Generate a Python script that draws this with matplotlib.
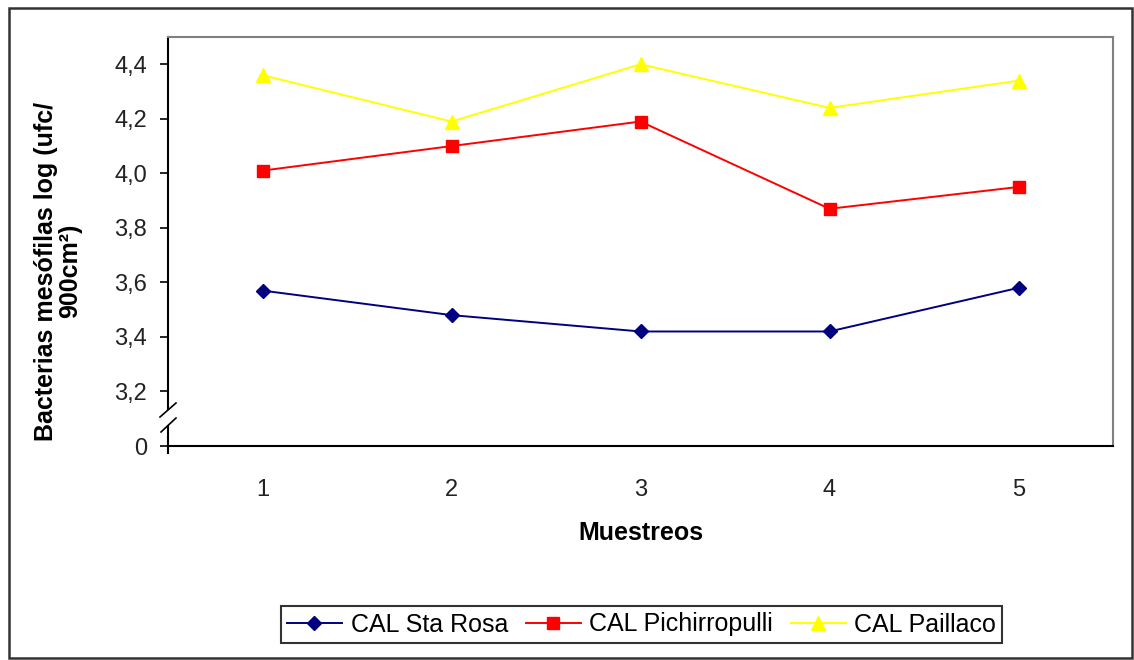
import matplotlib
matplotlib.use('Agg')
import matplotlib.pyplot as plt
from matplotlib.patches import Rectangle
from matplotlib.lines import Line2D

plt.rcParams['font.family'] = ['Liberation Sans', 'DejaVu Sans']

muestreos = [1, 2, 3, 4, 5]
x_labels = ['1', '2', '3', '4', '5']
sta_rosa = [3.57, 3.48, 3.42, 3.42, 3.58]
pichirropulli = [4.01, 4.10, 4.19, 3.87, 3.95]
paillaco = [4.36, 4.19, 4.40, 4.24, 4.34]
series_names = ['CAL Sta Rosa', 'CAL Pichirropulli', 'CAL Paillaco']
y_ticks = [3.0, 3.2, 3.4, 3.6, 3.8, 4.0, 4.2, 4.4]
y_tick_labels = ['0', '3,2', '3,4', '3,6', '3,8', '4,0', '4,2', '4,4']

W, H = 1134, 660
fig = plt.figure(figsize=(W / 100, H / 100), dpi=100)


def fx(px):
    return px / W


def fy(py):
    return 1 - py / H


ax = fig.add_axes([fx(168), fy(446), (1113 - 168) / W, (446 - 37) / H])

ax.plot(muestreos, sta_rosa, color='#000080', lw=1.4, marker='D', ms=7.5,
        markeredgecolor='#000080', label=series_names[0])
ax.plot(muestreos, pichirropulli, color='#ff0000', lw=1.4, marker='s', ms=8.5,
        markeredgecolor='#ff0000', label=series_names[1])
ax.plot(muestreos, paillaco, color='#ffff00', lw=1.4, marker='^', ms=10,
        markeredgecolor='#ffff00', label=series_names[2])

ax.set_xlim(0.5, 5.5)
ax.set_ylim(3.0, 4.5)
ax.set_yticks(y_ticks)
ax.set_yticklabels(y_tick_labels)
ax.set_xticks(muestreos)
ax.set_xticklabels(x_labels)
ax.tick_params(axis='x', length=0, pad=24, labelsize=17, colors='#222222')
ax.tick_params(axis='y', length=6, width=1.2, pad=9, labelsize=17,
               direction='out', colors='black', labelcolor='#222222')

for s in ['left', 'bottom']:
    ax.spines[s].set_color('black')
    ax.spines[s].set_linewidth(1.5)
for s in ['top', 'right']:
    ax.spines[s].set_color('#808080')
    ax.spines[s].set_linewidth(1.5)

# axis break on the y axis
fig.patches.append(Rectangle((fx(164), fy(425)), fx(8), (425 - 410) / H,
                             transform=fig.transFigure, facecolor='white',
                             edgecolor='none', zorder=10))
for (x0, y0, x1, y1) in [(160, 417, 176, 403), (161, 432, 176, 418)]:
    fig.lines.append(Line2D([fx(x0), fx(x1)], [fy(y0), fy(y1)],
                            transform=fig.transFigure, color='black', lw=1.2,
                            zorder=11))
# spine extension below 0
fig.lines.append(Line2D([fx(168), fx(168)], [fy(446), fy(453)],
                        transform=fig.transFigure, color='black', lw=1.5))

fig.text(fx(58), fy(271), 'Bacterias mesófilas log (ufc/\n900cm²)', rotation=90,
         ha='center', va='center', fontsize=18, fontweight='bold',
         multialignment='center', linespacing=1.0)
fig.text(fx(641), fy(533), 'Muestreos', ha='center', va='center',
         fontsize=18, fontweight='bold')

leg = fig.legend(loc='center', bbox_to_anchor=(fx(641.5), fy(624.5)), ncol=3,
                 frameon=True, fancybox=False, edgecolor='black', fontsize=18,
                 handlelength=2.2, columnspacing=0.7, handletextpad=0.35,
                 borderpad=0.25, borderaxespad=0)
leg.get_frame().set_linewidth(1.5)

# outer frame
fig.patches.append(Rectangle((fx(9), fy(658)), (1132 - 9) / W, (658 - 8) / H,
                             transform=fig.transFigure, fill=False,
                             edgecolor='#333333', lw=1.8))

fig.savefig('out.png', dpi=100)
